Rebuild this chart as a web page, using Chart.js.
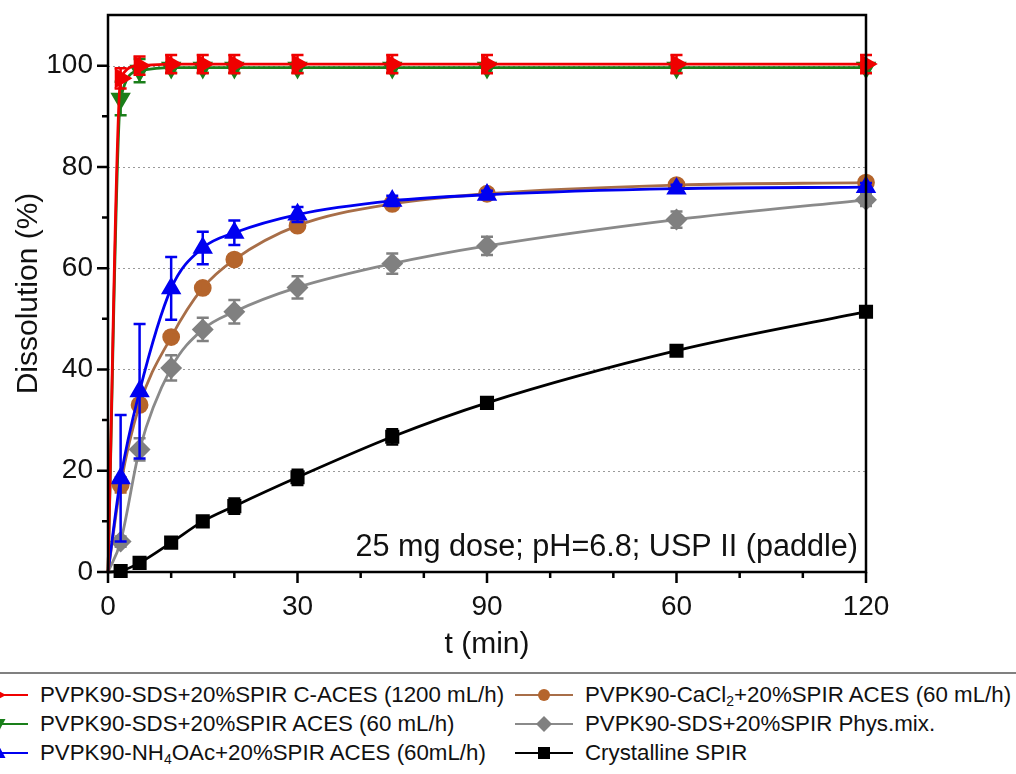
<!DOCTYPE html>
<html>
<head>
<meta charset="utf-8">
<script src="https://cdn.jsdelivr.net/npm/chart.js@4.4.1/dist/chart.umd.min.js"></script>
<style>
  html, body { margin: 0; padding: 0; background: #fff; overflow: hidden; }
  body { width: 1016px; height: 774px; position: relative; font-family: "Liberation Sans", Arial, sans-serif; }
  #wrap { position: absolute; left: 0; top: 0; width: 1016px; height: 670px; }
  #legend {
    position: absolute; left: -40px; top: 672px; width: 1080px; height: 110px;
    border-top: 2px solid #808080; box-sizing: border-box;
  }
  .item { position: absolute; height: 29px; display: flex; align-items: center; font-size: 22.3px; color: #111; white-space: nowrap; }
  .item svg { margin-right: 12px; }
  sub { font-size: 14px; vertical-align: -4px; line-height: 0; }
</style>
</head>
<body>
<div id="wrap"><canvas id="chart" width="1016" height="670"></canvas></div>
<div id="legend"></div>
<script>
// time points (min)
const times = [0, 2, 5, 10, 15, 20, 30, 45, 60, 90, 120];

// dissolution (%) per formulation
const cAces1200 = [0, 97.5, 100.0, 100.3, 100.3, 100.3, 100.3, 100.3, 100.3, 100.3, 100.3];
const aces60 = [0, 93.5, 99.0, 99.6, 99.6, 99.6, 99.6, 99.6, 99.6, 99.6, 99.6];
const nh4oac = [0, 18.5, 35.7, 56.0, 64.0, 67.0, 70.6, 73.3, 74.5, 75.7, 76.0];
const cacl2 = [0, 17.2, 33.0, 46.4, 56.1, 61.7, 68.4, 72.7, 74.7, 76.4, 76.9];
const physMix = [0, 6.0, 24.2, 40.3, 47.9, 51.4, 56.2, 60.9, 64.4, 69.6, 73.5];
const crystalline = [0, 0.2, 1.8, 5.8, 10.0, 13.0, 18.7, 26.7, 33.4, 43.7, 51.4];

// standard deviations
const cAces1200Err = [0, 2.0, 1.8, 1.8, 1.8, 1.8, 1.8, 1.8, 1.8, 1.8, 1.8];
const aces60Err = [0, 3.3, 2.3, 1.0, 1.0, 1.0, 1.0, 1.0, 1.0, 1.0, 1.0];
const nh4oacErr = [0, 12.5, 13.3, 6.2, 3.2, 2.4, 1.5, 1.0, 0.8, 0.8, 0.8];
const cacl2Err = [0, 1.5, 1.0, 1.0, 1.0, 1.0, 0.8, 0.8, 0.8, 0.8, 0.8];
const physMixErr = [0, 1.0, 2.2, 2.5, 2.3, 2.3, 2.2, 2.0, 1.8, 1.6, 1.2];
const crystallineErr = [0, 0.3, 0.6, 0.8, 0.8, 1.5, 1.5, 1.5, 1.0, 1.0, 1.0];

// x tick labels as printed on the original axis
const xTickLabels = ["0", "30", "90", "60", "120"];
const yTickLabels = ["0", "20", "40", "60", "80", "100"];

const labels = [
  "PVPK90-SDS+20%SPIR C-ACES (1200 mL/h)",
  "PVPK90-SDS+20%SPIR ACES (60 mL/h)",
  "PVPK90-NH<sub>4</sub>OAc+20%SPIR ACES (60mL/h)",
  "PVPK90-CaCl<sub>2</sub>+20%SPIR ACES (60 mL/h)",
  "PVPK90-SDS+20%SPIR Phys.mix.",
  "Crystalline SPIR"
];

const FONT = "'Liberation Sans', Arial, sans-serif";
Chart.defaults.font.family = FONT;
Chart.defaults.color = "#111";

function series(label, data, err, color, lineColor, style, rot, r) {
  return {
    label: label.replace(/<\/?sub>/g, ""),
    data: data.map((y, i) => ({ x: times[i], y })),
    err,
    borderColor: lineColor,
    backgroundColor: color,
    pointBackgroundColor: color,
    pointBorderColor: color,
    pointStyle: style,
    pointRotation: rot,
    pointRadius: (c) => (c.dataIndex === 0 ? 0 : r),
    borderWidth: 2.8,
    cubicInterpolationMode: "monotone",
    clip: false,
  };
}

const datasets = [
  series(labels[0], cAces1200, cAces1200Err, "#f00000", "#f00000", "triangle", 90, 9),
  series(labels[1], aces60, aces60Err, "#1a7f1a", "#1a7f1a", "triangle", 180, 9),
  series(labels[2], nh4oac, nh4oacErr, "#0000f0", "#0000f0", "triangle", 0, 9),
  series(labels[3], cacl2, cacl2Err, "#b5652c", "#a86e48", "circle", 0, 7.5),
  series(labels[4], physMix, physMixErr, "#808080", "#8a8a8a", "rectRot", 0, 9),
  series(labels[5], crystalline, crystallineErr, "#000000", "#000000", "rect", 0, 8),
];

// error bars with caps
const errorBars = {
  id: "errorBars",
  afterDatasetDraw(chart, args) {
    const ds = chart.data.datasets[args.index];
    const { ctx, scales } = chart;
    ctx.save();
    ctx.strokeStyle = ds.pointBackgroundColor;
    ctx.lineWidth = 2.5;
    ds.data.forEach((p, i) => {
      const e = ds.err[i];
      if (!e) return;
      const x = scales.x.getPixelForValue(p.x);
      const yt = scales.y.getPixelForValue(p.y + e);
      const yb = scales.y.getPixelForValue(p.y - e);
      ctx.beginPath();
      ctx.moveTo(x, yt); ctx.lineTo(x, yb);
      ctx.moveTo(x - 6, yt); ctx.lineTo(x + 6, yt);
      ctx.moveTo(x - 6, yb); ctx.lineTo(x + 6, yb);
      ctx.stroke();
    });
    ctx.restore();
  }
};

// dotted grid, frame, tick marks, annotation
const frame = {
  id: "frame",
  beforeDatasetsDraw(chart) {
    const { ctx, chartArea: a, scales } = chart;
    ctx.save();
    ctx.strokeStyle = "#9a9a9a";
    ctx.lineWidth = 1;
    ctx.setLineDash([2, 3]);
    yTickLabels.slice(1).forEach((t) => {
      const y = Math.round(scales.y.getPixelForValue(Number(t))) + 0.5;
      ctx.beginPath();
      ctx.moveTo(a.left, y); ctx.lineTo(a.right, y);
      ctx.stroke();
    });
    ctx.restore();
  },
  afterDraw(chart) {
    const { ctx, chartArea: a, scales } = chart;
    ctx.save();
    ctx.strokeStyle = "#000";
    ctx.lineWidth = 2.5;
    ctx.strokeRect(a.left, a.top, a.right - a.left, a.bottom - a.top);
    ctx.beginPath();
    scales.y.ticks.forEach((t) => {
      if (t.value > 100) return;
      const y = scales.y.getPixelForValue(t.value);
      const len = t.value % 20 === 0 ? 11 : 6;
      ctx.moveTo(a.left - len, y); ctx.lineTo(a.left, y);
    });
    scales.x.ticks.forEach((t) => {
      const x = scales.x.getPixelForValue(t.value);
      const len = t.value % 30 === 0 ? 11 : 6;
      ctx.moveTo(x, a.bottom); ctx.lineTo(x, a.bottom + len);
    });
    ctx.stroke();
    ctx.fillStyle = "#111";
    ctx.font = "30.6px " + FONT;
    ctx.textAlign = "right";
    ctx.textBaseline = "alphabetic";
    ctx.fillText("25 mg dose; pH=6.8; USP II (paddle)", a.right - 8, a.bottom - 16);
    ctx.restore();
  }
};

new Chart(document.getElementById("chart"), {
  type: "line",
  data: { datasets },
  plugins: [errorBars, frame],
  options: {
    responsive: false,
    animation: false,
    events: [],
    layout: { padding: { left: 0, top: 15, right: 150, bottom: 0 } },
    plugins: { legend: { display: false }, tooltip: { enabled: false } },
    scales: {
      x: {
        type: "linear",
        min: 0, max: 120,
        grid: { display: false },
        border: { display: false },
        ticks: {
          stepSize: 10, autoSkip: false, maxRotation: 0, padding: 10,
          font: { size: 28 }, color: "#111",
          callback: (v) => (v % 30 === 0 ? xTickLabels[v / 30] : ""),
        },
        title: { display: true, text: "t (min)", font: { size: 30 }, color: "#111", padding: { top: 0, bottom: 7 } },
        afterFit: (s) => { s.height = 98; s.paddingLeft = 0; s.paddingRight = 0; },
      },
      y: {
        min: 0, max: 110,
        grid: { display: false },
        border: { display: false },
        ticks: {
          stepSize: 10, autoSkip: false, padding: 7,
          font: { size: 28 }, color: "#111",
          callback: (v) => (yTickLabels.includes(String(v)) ? String(v) : ""),
        },
        title: { display: true, text: "Dissolution (%)", font: { size: 30 }, color: "#111", padding: { top: 11, bottom: 0 } },
        afterFit: (s) => { s.width = 108; s.paddingTop = 0; s.paddingBottom = 0; },
      },
    },
  },
});

// legend (two columns, HTML so that subscripts stay real text)
function markerSvg(ds) {
  const c = ds.pointBackgroundColor, l = ds.borderColor;
  let shape = "";
  if (ds.pointStyle === "circle") shape = `<circle cx="29" cy="10" r="6" fill="${c}"/>`;
  else if (ds.pointStyle === "rect") shape = `<rect x="23" y="4" width="12" height="12" fill="${c}"/>`;
  else if (ds.pointStyle === "rectRot") shape = `<polygon points="29,2 37,10 29,18 21,10" fill="${c}"/>`;
  else {
    const pts = [[0, -7], [6.5, 5], [-6.5, 5]];
    const a = (ds.pointRotation * Math.PI) / 180;
    const p = pts.map(([x, y]) => `${29 + x * Math.cos(a) - y * Math.sin(a)},${10 + x * Math.sin(a) + y * Math.cos(a)}`).join(" ");
    shape = `<polygon points="${p}" fill="${c}"/>`;
  }
  return `<svg width="58" height="20"><line x1="0" y1="10" x2="58" y2="10" stroke="${l}" stroke-width="2"/>${shape}</svg>`;
}
const legend = document.getElementById("legend");
const colX = [10, 555];
const rowY = [6, 35, 64];
datasets.forEach((ds, i) => {
  const el = document.createElement("div");
  el.className = "item";
  el.style.left = colX[Math.floor(i / 3)] + "px";
  el.style.top = rowY[i % 3] + "px";
  el.innerHTML = markerSvg(ds) + "<span>" + labels[i] + "</span>";
  legend.appendChild(el);
});
</script>
</body>
</html>
